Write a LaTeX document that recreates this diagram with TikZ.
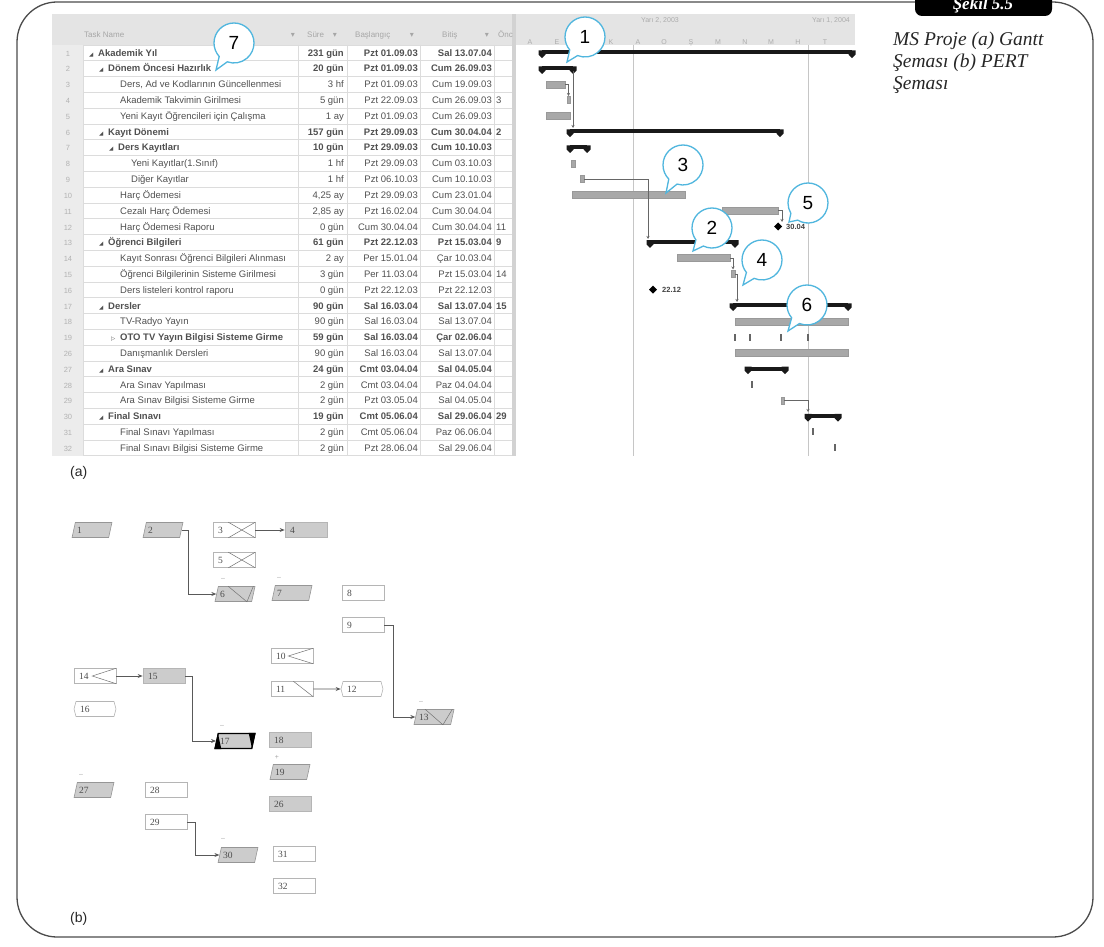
\documentclass[tikz,border=0pt]{standalone}
\usepackage{fontspec}
\newfontfamily\guifont{Liberation Sans}
\newfontfamily\symfont{DejaVu Sans}
\newfontfamily\pertfont{Liberation Serif}
\usepackage{tikz}
\usetikzlibrary{positioning,shapes.geometric,shapes.callouts,shapes.symbols,arrows.meta}

\definecolor{framegray}{RGB}{75,75,75}
\definecolor{gridgray}{RGB}{220,220,220}
\definecolor{headgray}{RGB}{228,228,228}
\definecolor{colgray}{RGB}{236,236,236}
\definecolor{bargray}{RGB}{168,168,168}
\definecolor{boxgray}{RGB}{204,204,204}
\definecolor{edgegray}{RGB}{150,150,150}
\definecolor{bubbleblue}{RGB}{80,182,222}
\definecolor{textgray}{RGB}{80,80,80}

\begin{document}
\begin{tikzpicture}[x=1pt,y=-1pt,>={Stealth[length=5pt,width=4pt]},
  cell/.style={inner sep=0pt,text=textgray,font=\guifont\fontsize{9.5}{10}\selectfont},
  numcell/.style={inner sep=0pt,text=gray!60,font=\guifont\fontsize{7.5}{8}\selectfont},
  headcell/.style={inner sep=0pt,text=gray!70,font=\guifont\fontsize{8}{9}\selectfont},
  month/.style={inner sep=0pt,text=gray!65,font=\guifont\fontsize{7}{8}\selectfont},
  bubble/.style={ellipse callout,draw=bubbleblue,line width=1.3pt,fill=white,minimum width=40pt,minimum height=40pt,inner sep=0pt,callout pointer arc=28,font=\guifont\fontsize{19}{20}\selectfont},
  pbox/.style={rectangle,draw=edgegray!70,fill=white,minimum width=42pt,minimum height=15pt,inner sep=0pt,line width=0.6pt,text width=32pt,align=left,text=black!70,font=\pertfont\fontsize{9.5}{10}\selectfont},
  pfull/.style={pbox,fill=boxgray},
  psum/.style={trapezium,trapezium left angle=65,trapezium right angle=115,trapezium stretches=true,draw=edgegray,fill=boxgray,minimum width=40pt,minimum height=15pt,inner sep=0pt,line width=0.6pt,text width=30pt,align=left,text=black!70,font=\pertfont\fontsize{9.5}{10}\selectfont},
  pmile/.style={signal,signal to=east and west,signal pointer angle=150,draw=edgegray!70,fill=white,minimum width=42pt,minimum height=15pt,inner sep=0pt,line width=0.6pt,text width=30pt,align=left,text=black!70,font=\pertfont\fontsize{9.5}{10}\selectfont},
  sign/.style={inner sep=0pt,text=gray!70,font=\guifont\fontsize{7}{7}\selectfont},
  plink/.style={->,draw=black!65,line width=0.8pt},
  glink/.style={->,draw=black!60,line width=0.6pt,>={Stealth[length=3pt,width=3pt]}},
  progress/.style={draw=black!55,line width=0.5pt},
  sumbar/.style={fill=black!90},
  taskbar/.style={fill=bargray,draw=black!40,line width=0.4pt},
  tickbar/.style={fill=black!60},
  partlabel/.style={anchor=base west,inner sep=0pt,text=black!85,font=\guifont\fontsize{14}{14}\selectfont}
]
\useasboundingbox (0,0) rectangle (1104,947);

% frame, tab and caption
\draw[line width=1.3pt,framegray,rounded corners=40pt] (17,2) rectangle (1093,937);
\fill[black,rounded corners=7pt] (915,-14) rectangle (1052,16);
\node[anchor=base,inner sep=0pt,text=white,font=\pertfont\bfseries\itshape\fontsize{17}{17}\selectfont] (tab) at (983,10) {Şekil 5.5};
\node[anchor=north west,align=left,inner sep=0pt,text=black!85,font=\pertfont\itshape\fontsize{19.5}{22}\selectfont] (caption) at (893,32) {MS Proje (a) Gantt\\Şeması (b) PERT\\Şeması};

% (a) Gantt screenshot
\fill[headgray] (52,14) rectangle (855,44.8);
\fill[colgray] (52,44.8) rectangle (83,456);
\fill[gray!35] (512,14) rectangle (516,456);
\foreach \k in {0,...,26}
  \draw[gridgray] (83,44.8+15.8*\k) -- (512,44.8+15.8*\k);
\foreach \x in {83,298,347,420,494}
  \draw[gridgray] (\x,44.8) -- (\x,456);
\draw[gray!45] (633,44.8) -- (633,456);
\draw[gray!45] (808,44.8) -- (808,456);

\node[headcell,anchor=base west] (hname) at (84,38) {Task Name};
\node[headcell,anchor=base] (hnamearr) at (293,38) {\symfont ▾};
\node[headcell,anchor=base west] (hdur) at (307,38) {Süre};
\node[headcell,anchor=base] (hdurarr) at (335,38) {\symfont ▾};
\node[headcell,anchor=base west] (hstart) at (355,38) {Başlangıç};
\node[headcell,anchor=base] (hstartarr) at (412,38) {\symfont ▾};
\node[headcell,anchor=base west] (hend) at (442,38) {Bitiş};
\node[headcell,anchor=base] (hendarr) at (487,38) {\symfont ▾};
\node[headcell,anchor=base west] (hpre) at (498,38) {Önc};
\node[month,anchor=base] (half2) at (660,23) {Yarı 2, 2003};
\node[month,anchor=base west] (half1) at (812,23) {Yarı 1, 2004};
\foreach \x/\m in {530/A,557/E,611/K,638/A,664/O,691/Ş,718/M,745/N,771/M,798/H,825/T}
  \node[month,anchor=base] (m\x) at (\x,45) {\m};
\fill[white] (855,10) rectangle (892,458);

\foreach \k/\n/\tx/\g/\f/\name/\dur/\st/\en/\pre in {
  0/1/98/◢/\bfseries/Akademik Yıl/231 gün/Pzt 01.09.03/Sal 13.07.04/{},
  1/2/108/◢/\bfseries/Dönem Öncesi Hazırlık/20 gün/Pzt 01.09.03/Cum 26.09.03/{},
  2/3/120/{}/\mdseries/{Ders, Ad ve Kodlarının Güncellenmesi}/3 hf/Pzt 01.09.03/Cum 19.09.03/{},
  3/4/120/{}/\mdseries/Akademik Takvimin Girilmesi/5 gün/Pzt 22.09.03/Cum 26.09.03/3,
  4/5/120/{}/\mdseries/Yeni Kayıt Öğrencileri için Çalışma/1 ay/Pzt 01.09.03/Cum 26.09.03/{},
  5/6/108/◢/\bfseries/Kayıt Dönemi/157 gün/Pzt 29.09.03/Cum 30.04.04/2,
  6/7/118/◢/\bfseries/Ders Kayıtları/10 gün/Pzt 29.09.03/Cum 10.10.03/{},
  7/8/131/{}/\mdseries/Yeni Kayıtlar(1.Sınıf)/1 hf/Pzt 29.09.03/Cum 03.10.03/{},
  8/9/131/{}/\mdseries/Diğer Kayıtlar/1 hf/Pzt 06.10.03/Cum 10.10.03/{},
  9/10/120/{}/\mdseries/Harç Ödemesi/{4,25 ay}/Pzt 29.09.03/Cum 23.01.04/{},
  10/11/120/{}/\mdseries/Cezalı Harç Ödemesi/{2,85 ay}/Pzt 16.02.04/Cum 30.04.04/{},
  11/12/120/{}/\mdseries/Harç Ödemesi Raporu/0 gün/Cum 30.04.04/Cum 30.04.04/11,
  12/13/108/◢/\bfseries/Öğrenci Bilgileri/61 gün/Pzt 22.12.03/Pzt 15.03.04/9,
  13/14/120/{}/\mdseries/Kayıt Sonrası Öğrenci Bilgileri Alınması/2 ay/Per 15.01.04/Çar 10.03.04/{},
  14/15/120/{}/\mdseries/Öğrenci Bilgilerinin Sisteme Girilmesi/3 gün/Per 11.03.04/Pzt 15.03.04/14,
  15/16/120/{}/\mdseries/Ders listeleri kontrol raporu/0 gün/Pzt 22.12.03/Pzt 22.12.03/{},
  16/17/108/◢/\bfseries/Dersler/90 gün/Sal 16.03.04/Sal 13.07.04/15,
  17/18/120/{}/\mdseries/TV-Radyo Yayın/90 gün/Sal 16.03.04/Sal 13.07.04/{},
  18/19/120/▷/\bfseries/OTO TV Yayın Bilgisi Sisteme Girme/59 gün/Sal 16.03.04/Çar 02.06.04/{},
  19/26/120/{}/\mdseries/Danışmanlık Dersleri/90 gün/Sal 16.03.04/Sal 13.07.04/{},
  20/27/108/◢/\bfseries/Ara Sınav/24 gün/Cmt 03.04.04/Sal 04.05.04/{},
  21/28/120/{}/\mdseries/Ara Sınav Yapılması/2 gün/Cmt 03.04.04/Paz 04.04.04/{},
  22/29/120/{}/\mdseries/Ara Sınav Bilgisi Sisteme Girme/2 gün/Pzt 03.05.04/Sal 04.05.04/{},
  23/30/108/◢/\bfseries/Final Sınavı/19 gün/Cmt 05.06.04/Sal 29.06.04/29,
  24/31/120/{}/\mdseries/Final Sınavı Yapılması/2 gün/Cmt 05.06.04/Paz 06.06.04/{},
  25/32/120/{}/\mdseries/Final Sınavı Bilgisi Sisteme Girme/2 gün/Pzt 28.06.04/Sal 29.06.04/{}}
{
  \pgfmathsetmacro\yy{56.2+15.8*\k}
  \node[numcell,anchor=base] (num\n) at (68,\yy) {\n};
  \node[cell,anchor=base west] (tri\n) at (\tx-9,\yy) {\symfont\fontsize{5.5}{6}\selectfont\g};
  \node[cell,anchor=base west] (name\n) at (\tx,\yy) {\f\name};
  \node[cell,anchor=base east] (dur\n) at (344,\yy) {\f\dur};
  \node[cell,anchor=base east] (start\n) at (418,\yy) {\f\st};
  \node[cell,anchor=base east] (end\n) at (492,\yy) {\f\en};
  \node[cell,anchor=base west] (pre\n) at (496,\yy) {\f\pre};
}

% bars
\foreach \xa/\xb/\k in {542/852/0,542/573/1,570/780/5,570/587/6,650/735/12,733/848/16,748/785/20,808/838/23}
{
  \pgfmathsetmacro\yy{52.7+15.8*\k}
  \fill[sumbar] (\xa,\yy-2.2) rectangle (\xb,\yy+1.8);
  \fill[sumbar] (\xa-3.5,\yy-2.2) -- (\xa+3.5,\yy-2.2) -- (\xa+3.5,\yy+2) -- (\xa,\yy+5.5) -- (\xa-3.5,\yy+2) -- cycle;
  \fill[sumbar] (\xb-3.5,\yy-2.2) -- (\xb+3.5,\yy-2.2) -- (\xb+3.5,\yy+2) -- (\xb,\yy+5.5) -- (\xb-3.5,\yy+2) -- cycle;
}
\foreach \xa/\xb/\k in {546/565/2,567/570.5/3,546/570/4,571/575/7,580/584/8,572/685/9,722/778/10,677/730/13,731/735/14,735/848/17,735/848/19,781/784/22}
{
  \pgfmathsetmacro\yy{52.7+15.8*\k}
  \draw[taskbar] (\xa,\yy-3.5) rectangle (\xb,\yy+3.5);
}
\foreach \x/\k in {735/18,750/18,781/18,808/18,752/21,813/24,835/25}
{
  \pgfmathsetmacro\yy{52.7+15.8*\k}
  \fill[tickbar] (\x-0.8,\yy-3.5) rectangle (\x+0.8,\yy+3.5);
}
\fill[black] (774,226.5) -- (778,222.5) -- (782,226.5) -- (778,230.5) -- cycle;
\node[inner sep=0pt,anchor=west,text=black!75,font=\guifont\bfseries\fontsize{7.5}{8}\selectfont] (ms12) at (786,226.5) {30.04};
\fill[black] (649,289.7) -- (653,285.7) -- (657,289.7) -- (653,293.7) -- cycle;
\node[inner sep=0pt,anchor=west,text=black!75,font=\guifont\bfseries\fontsize{7.5}{8}\selectfont] (ms16) at (662,289.7) {22.12};

\draw[glink] (565,84.3) -- (568.5,84.3) -- (568.5,96);
\draw[glink] (573,71) -- (573,128);
\draw[glink] (584,179.1) -- (648,179.1) -- (648,239);
\draw[glink] (778,210.7) -- (782,210.7) -- (782,222);
\draw[glink] (730,258.1) -- (733,258.1) -- (733,269.5);
\draw[glink] (735,273.9) -- (737,273.9) -- (737,302);
\draw[glink] (784,400.3) -- (808,400.3) -- (808,412);

% callouts
\coordinate (t1) at (567,62);
\coordinate (t2) at (693,251);
\coordinate (t3) at (666,193);
\coordinate (t4) at (743,285);
\coordinate (t5) at (789,222);
\coordinate (t6) at (788,331);
\coordinate (t7) at (216,70);
\node[bubble,callout absolute pointer=(t1)] (c1) at (585,37) {1};
\node[bubble,callout absolute pointer=(t2)] (c2) at (712,228) {2};
\node[bubble,callout absolute pointer=(t3)] (c3) at (683,165) {3};
\node[bubble,callout absolute pointer=(t4)] (c4) at (762,260) {4};
\node[bubble,callout absolute pointer=(t5)] (c5) at (808,203) {5};
\node[bubble,callout absolute pointer=(t6)] (c6) at (807,305) {6};
\node[bubble,callout absolute pointer=(t7)] (c7) at (234,43) {7};

\node[partlabel] (labela) at (70,476) {(a)};

% (b) PERT diagram
\node[psum] (p1) at (92,530) {1};
\node[psum] (p2) at (163,530) {2};
\node[pbox] (p3) at (234,530) {3};
\node[pfull] (p4) at (306,530) {4};
\node[pbox] (p5) at (234,560) {5};
\node[psum] (p6) at (235,594) {6};
\node[psum] (p7) at (292,593) {7};
\node[pbox] (p8) at (363,593) {8};
\node[pbox] (p9) at (363,625) {9};
\node[pbox] (p10) at (292,656) {10};
\node[pbox] (p11) at (292,689) {11};
\node[pmile] (p12) at (362,689) {12};
\node[psum] (p13) at (434,717) {13};
\node[pbox] (p14) at (95,676) {14};
\node[pfull] (p15) at (164,676) {15};
\node[pmile] (p16) at (95,709) {16};
\node[psum,draw=black,line width=1.2pt] (p17) at (235,741) {17};
\node[pfull] (p18) at (290,740) {18};
\node[psum] (p19) at (290,772) {19};
\node[pfull] (p26) at (290,804) {26};
\node[psum] (p27) at (94,790) {27};
\node[pbox] (p28) at (166,790) {28};
\node[pbox] (p29) at (166,822) {29};
\node[psum] (p30) at (238,855) {30};
\node[pbox] (p31) at (294,854) {31};
\node[pbox] (p32) at (294,886) {32};

\node[sign] (s6) at (223,579) {–};
\node[sign] (s7) at (279,578) {–};
\node[sign] (s13) at (421,702) {–};
\node[sign] (s17) at (222,726) {–};
\node[sign] (s19) at (277,757) {+};
\node[sign] (s27) at (81,775) {–};
\node[sign] (s30) at (223,839) {–};

% progress marks
\draw[progress] ([xshift=-27pt]p3.north east) -- (p3.south east);
\draw[progress] ([xshift=-27pt]p3.south east) -- (p3.north east);
\draw[progress] ([xshift=-27pt]p5.north east) -- (p5.south east);
\draw[progress] ([xshift=-27pt]p5.south east) -- (p5.north east);
\draw[progress] (p10.north east) -- ([xshift=-25pt]p10.east) -- (p10.south east);
\draw[progress] (p14.north east) -- ([xshift=-24pt]p14.east) -- (p14.south east);
\draw[progress] ([xshift=-20pt]p11.north east) -- (p11.south east);
\draw[progress] ([xshift=10pt]p6.top left corner) -- ([xshift=-5pt]p6.bottom right corner) -- ([xshift=-2pt]p6.top right corner);
\draw[progress] ([xshift=8pt]p13.top left corner) -- ([xshift=-8pt]p13.bottom right corner) -- ([xshift=-2pt]p13.top right corner);
\fill[black] (p17.bottom left corner) -- (p17.top left corner) -- ([xshift=7pt]p17.bottom left corner) -- cycle;
\fill[black] (p17.top right corner) -- (p17.bottom right corner) -- ([xshift=-7pt]p17.top right corner) -- cycle;

\draw[plink] (p2.east) -- ++(7,0) |- (p6.west);
\draw[plink] (p3) -- (p4);
\draw[plink] (p9.east) -- ++(9,0) |- (p13.west);
\draw[plink] (p11) -- (p12);
\draw[plink] (p14) -- (p15);
\draw[plink] (p15.east) -- ++(7,0) |- (p17.west);
\draw[plink] (p29.east) -- ++(8,0) |- (p30.west);

\node[partlabel] (labelb) at (70,922) {(b)};
\end{tikzpicture}
\end{document}
